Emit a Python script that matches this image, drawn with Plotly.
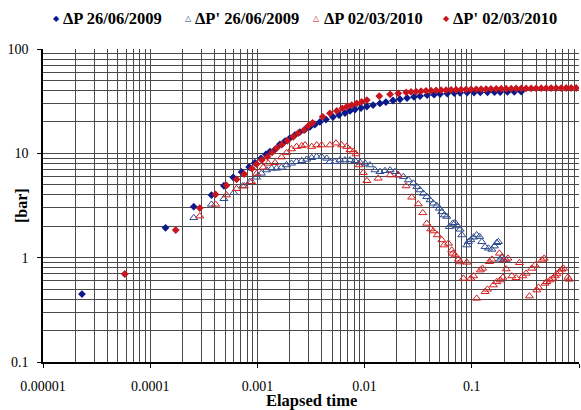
import plotly.graph_objects as go

# ---------------- data ----------------
# dP 26/06/2009 (navy filled diamonds)
t_dp09 = [2.31e-5, 1.39e-4, 2.55e-4, 3.73e-4, 4.87e-4, 5.94e-4, 7.12e-4, 8.38e-4, 9.48e-4,
          1.08e-3, 1.20e-3, 1.31e-3, 1.46e-3, 1.62e-3, 1.81e-3, 2.01e-3, 2.24e-3, 2.49e-3,
          2.78e-3, 3.09e-3, 3.44e-3, 3.83e-3, 4.36e-3, 5.07e-3, 5.77e-3, 6.56e-3, 7.31e-3,
          8.13e-3, 9.25e-3, 1.05e-2, 1.20e-2, 1.39e-2, 1.58e-2, 1.84e-2, 2.14e-2, 2.49e-2,
          2.89e-2, 3.29e-2, 3.83e-2, 4.45e-2, 5.06e-2, 5.90e-2, 6.85e-2, 7.78e-2, 9.04e-2,
          0.105, 0.120, 0.140, 0.163, 0.184, 0.215, 0.249, 0.289]
p_dp09 = [0.448, 1.93, 3.08, 3.98, 4.89, 5.89, 6.62, 7.39, 8.12,
          8.95, 9.78, 10.4, 10.9, 12.2, 13.1, 14.0, 15.0, 16.0,
          16.9, 17.9, 18.9, 20.0, 21.1, 22.3, 23.3, 24.3, 25.5,
          26.3, 27.2, 28.1, 29.0, 30.1, 31.0, 32.1, 33.0, 33.9,
          34.7, 35.4, 36.1, 36.5, 37.0, 37.4, 37.8, 38.0, 38.2,
          38.3, 38.4, 38.5, 38.6, 38.7, 38.8, 38.9, 39.0]

# dP' 26/06/2009 (blue open triangles)
t_der09 = [2.55e-4, 3.73e-4, 4.87e-4, 6.03e-4, 7.28e-4, 8.51e-4, 9.83e-4, 1.09e-3, 1.22e-3,
           1.36e-3, 1.51e-3, 1.68e-3, 1.87e-3, 2.08e-3, 2.32e-3, 2.59e-3, 2.88e-3, 3.21e-3,
           3.57e-3, 3.97e-3, 4.43e-3, 4.75e-3, 5.29e-3, 5.89e-3, 6.56e-3, 7.31e-3, 8.13e-3,
           9.06e-3, 1.01e-2, 1.12e-2, 1.25e-2, 1.39e-2, 1.55e-2, 1.73e-2, 1.92e-2, 2.06e-2,
           2.30e-2, 2.56e-2, 2.85e-2, 3.07e-2, 3.29e-2, 3.53e-2, 3.80e-2, 4.08e-2, 4.38e-2,
           4.71e-2, 4.98e-2, 5.25e-2, 5.55e-2, 5.84e-2, 6.18e-2, 6.65e-2, 6.98e-2, 7.34e-2,
           7.78e-2, 8.07e-2, 8.98e-2, 9.29e-2, 9.79e-2, 0.104, 0.111, 0.118, 0.124,
           0.133, 0.143, 0.154, 0.163, 0.171, 0.177, 0.184, 0.191, 0.197, 0.209]
p_der09 = [2.41, 3.24, 3.67, 4.19, 4.86, 5.34, 5.89, 6.43, 6.92,
           7.18, 7.18, 7.34, 7.73, 8.02, 8.30, 8.49, 8.76, 9.07,
           9.28, 9.28, 8.95, 8.30, 8.30, 8.62, 8.62, 8.62, 8.49,
           8.20, 8.02, 7.73, 6.92, 6.66, 6.81, 6.92, 6.66, 6.19,
           5.97, 5.55, 5.16, 4.79, 4.45, 4.13, 3.84, 3.57, 3.32,
           3.16, 2.97, 2.75, 2.56, 2.48, 1.98, 2.13, 2.16, 2.01,
           1.87, 1.65, 1.32, 1.42, 1.48, 1.57, 1.65, 1.59, 1.42,
           1.27, 1.23, 1.20, 1.29, 1.39, 1.42, 0.964, 1.01, 0.948, 0.948]

# dP 02/03/2010 (red open triangles)
t_dp10 = [2.90e-4, 4.07e-4, 5.15e-4, 6.39e-4, 7.53e-4, 8.83e-4, 9.83e-4, 1.13e-3, 1.26e-3,
          1.46e-3, 1.68e-3, 1.87e-3, 2.08e-3, 2.32e-3, 2.59e-3, 2.78e-3, 3.21e-3, 3.57e-3,
          3.97e-3, 4.75e-3, 5.41e-3, 6.11e-3, 6.81e-3, 7.31e-3, 7.84e-3, 8.31e-3, 8.92e-3,
          9.72e-3, 1.05e-2, 1.34e-2, 1.73e-2, 2.06e-2, 2.44e-2, 2.75e-2, 3.17e-2, 3.49e-2,
          3.80e-2, 4.14e-2, 4.38e-2, 4.77e-2, 5.25e-2, 5.51e-2, 6.05e-2, 6.50e-2, 6.65e-2,
          6.98e-2, 7.50e-2, 7.78e-2, 8.98e-2, 8.35e-2, 9.79e-2, 0.104, 0.111, 0.120, 0.126,
          0.133, 0.140, 0.146, 0.154, 0.159, 0.171, 0.181, 0.184, 0.195, 0.200, 0.209,
          0.217, 0.236, 0.259, 0.278, 0.299, 0.321, 0.345, 0.363, 0.390, 0.405, 0.419,
          0.451, 0.473, 0.483, 0.501, 0.538, 0.570, 0.600, 0.622, 0.658, 0.692, 0.717,
          0.788, 0.810]
p_dp10 = [2.50, 3.24, 3.98, 4.58, 4.86, 5.34, 6.40, 7.34, 8.02,
          8.12, 9.20, 10.1, 11.0, 11.6, 11.8, 12.0, 11.6, 12.0,
          12.0, 12.0, 12.5, 12.0, 11.6, 10.8, 10.4, 9.85, 7.73,
          6.52, 5.46, 5.76, 6.19, 6.19, 4.86, 3.79, 3.27, 2.69,
          2.13, 1.88, 1.80, 1.65, 1.48, 1.32, 1.37, 1.18, 1.10,
          1.06, 0.964, 0.908, 0.902, 0.633, 0.633, 0.667, 0.407, 0.760, 0.789,
          0.471, 0.497, 0.914, 0.964, 0.546, 0.587, 1.10, 0.610, 0.647, 0.948, 0.778,
          0.985, 0.667, 0.641, 0.894, 0.667, 0.707, 0.428, 0.789, 0.849, 0.489, 0.519,
          0.948, 0.985, 0.567, 0.587, 0.610, 0.633, 0.667, 0.697, 0.733, 0.773, 0.789,
          0.647, 0.620]

# dP' 02/03/2010 (red filled diamonds)
t_der10 = [5.79e-5, 1.73e-4, 2.90e-4, 4.07e-4, 5.15e-4, 6.39e-4, 7.53e-4, 8.89e-4, 9.83e-4,
           1.10e-3, 1.24e-3, 1.37e-3, 1.51e-3, 1.69e-3, 1.90e-3, 2.16e-3, 2.40e-3, 2.72e-3,
           2.98e-3, 3.27e-3, 4.06e-3, 4.75e-3, 5.49e-3, 6.19e-3, 6.81e-3, 7.58e-3, 8.44e-3,
           9.39e-3, 1.05e-2, 1.37e-2, 1.73e-2, 2.06e-2, 2.44e-2, 2.71e-2, 3.02e-2, 3.36e-2,
           3.74e-2, 4.17e-2, 4.64e-2, 5.17e-2, 5.75e-2, 6.41e-2, 7.13e-2, 7.94e-2, 8.85e-2,
           9.84e-2, 0.110, 0.122, 0.136, 0.151, 0.169, 0.188, 0.209, 0.233, 0.259, 0.289,
           0.321, 0.358, 0.398, 0.444, 0.494, 0.550, 0.612, 0.682, 0.759, 0.845, 0.941]
p_der10 = [0.697, 1.84, 2.99, 4.04, 4.93, 5.63, 6.33, 7.15, 7.89,
           8.62, 9.28, 10.2, 11.2, 12.1, 13.2, 14.4, 15.6, 16.7,
           18.3, 19.6, 22.4, 24.2, 25.5, 27.0, 28.0, 29.0, 30.1,
           31.2, 32.4, 35.4, 36.8, 37.6, 38.4, 38.8, 39.1, 39.4,
           39.7, 39.9, 40.1, 40.3, 40.4, 40.6, 40.7, 40.8, 40.9,
           41.0, 41.1, 41.2, 41.3, 41.4, 41.5, 41.6, 41.6, 41.7, 41.8, 41.9,
           41.9, 42.0, 42.0, 42.1, 42.1, 42.2, 42.2, 42.2, 42.3, 42.3, 42.3]

series_names = ["ΔP 26/06/2009", "ΔP' 26/06/2009", "ΔP 02/03/2010", "ΔP' 02/03/2010"]

x_tick_vals = [1e-5, 1e-4, 1e-3, 1e-2, 1e-1, 1]
x_tick_text = ["0.00001", "0.0001", "0.001", "0.01", "0.1", "1"]
y_tick_vals = [0.1, 1, 10, 100]
y_tick_text = ["0.1", "1", "10", "100"]

# ---------------- styling ----------------
FONT = "Liberation Serif"
NAVY = "#0B1A8A"
BLUE = "#2E4C92"
RED = "#D42020"
DRED = "#C8141C"
GRID = "#4a4a4a"

x_minor = [k * 10.0 ** e for e in range(-5, 0) for k in range(2, 10)]
y_minor = [k * 10.0 ** e for e in range(-1, 2) for k in range(2, 10)]

fig = go.Figure()
fig.add_trace(go.Scatter(x=t_dp09, y=p_dp09, mode="markers", name=series_names[0],
                         marker=dict(symbol="diamond", size=6, color=NAVY, line=dict(width=0))))
fig.add_trace(go.Scatter(x=t_der09, y=p_der09, mode="markers", name=series_names[1],
                         marker=dict(symbol="triangle-up-open", size=7, color=BLUE,
                                     line=dict(width=1, color=BLUE))))
fig.add_trace(go.Scatter(x=t_dp10, y=p_dp10, mode="markers", name=series_names[2],
                         marker=dict(symbol="triangle-up-open", size=7, color=RED,
                                     line=dict(width=1, color=RED))))
fig.add_trace(go.Scatter(x=t_der10, y=p_der10, mode="markers", name=series_names[3],
                         marker=dict(symbol="diamond", size=6, color=DRED, line=dict(width=0))))

fig.update_xaxes(type="log", range=[-5, 0], tickvals=x_tick_vals, ticktext=x_tick_text,
                 ticks="outside", ticklen=4, tickcolor="black", tickwidth=1,
                 ticklabelstandoff=6,
                 showgrid=True, gridcolor=GRID, gridwidth=1,
                 minor=dict(tickvals=x_minor, showgrid=True, gridcolor=GRID, gridwidth=1, ticks=""),
                 showline=True, linecolor="black", linewidth=1.5, mirror=False,
                 zeroline=False, tickfont=dict(family=FONT, size=14, color="black"))
fig.update_yaxes(type="log", range=[-1, 2], tickvals=y_tick_vals, ticktext=y_tick_text,
                 ticks="outside", ticklen=4, tickcolor="black", tickwidth=1,
                 ticklabelstandoff=6,
                 showgrid=True, gridcolor=GRID, gridwidth=1,
                 minor=dict(tickvals=y_minor, showgrid=True, gridcolor=GRID, gridwidth=1, ticks=""),
                 showline=True, linecolor="black", linewidth=1.5, mirror=False,
                 zeroline=False, tickfont=dict(family=FONT, size=14, color="black"))

fig.add_annotation(text="<b>[bar]</b>", xref="paper", yref="paper", x=-0.040, y=0.5,
                   textangle=-90, showarrow=False, xanchor="center", yanchor="middle",
                   font=dict(family=FONT, size=16, color="black"))
fig.add_annotation(text="<b>Elapsed time</b>", xref="paper", yref="paper", x=0.5, y=-0.122,
                   showarrow=False, xanchor="center", yanchor="middle",
                   font=dict(family=FONT, size=16.5, color="black"))

# legend drawn as a row of text items across the top (glyph + bold label)
legend_glyphs = ["◆", "△", "△", "◆"]
legend_colors = [NAVY, BLUE, RED, DRED]
legend_sym_x = [0.0250, 0.2707, 0.5106, 0.7522]   # paper fractions
legend_txt_x = [0.0344, 0.2797, 0.5205, 0.7615]
LEG_Y = 1.098
for g, c, xs, xt, name in zip(legend_glyphs, legend_colors, legend_sym_x, legend_txt_x, series_names):
    fig.add_annotation(text=g, xref="paper", yref="paper", x=xs, y=LEG_Y,
                       showarrow=False, xanchor="center", yanchor="middle",
                       font=dict(family="DejaVu Sans", size=8, color=c))
    fig.add_annotation(text="<b>" + name + "</b>", xref="paper", yref="paper", x=xt, y=LEG_Y,
                       showarrow=False, xanchor="left", yanchor="middle",
                       font=dict(family=FONT, size=16.5, color="black"))

fig.update_layout(
    width=581, height=410,
    margin=dict(l=43, r=2, t=49, b=48, autoexpand=False),
    paper_bgcolor="white", plot_bgcolor="white",
    font=dict(family=FONT, color="black"),
    showlegend=False,
)

fig.write_html("out.html", config={"displayModeBar": False},
               post_script="document.body.style.margin='0';")
